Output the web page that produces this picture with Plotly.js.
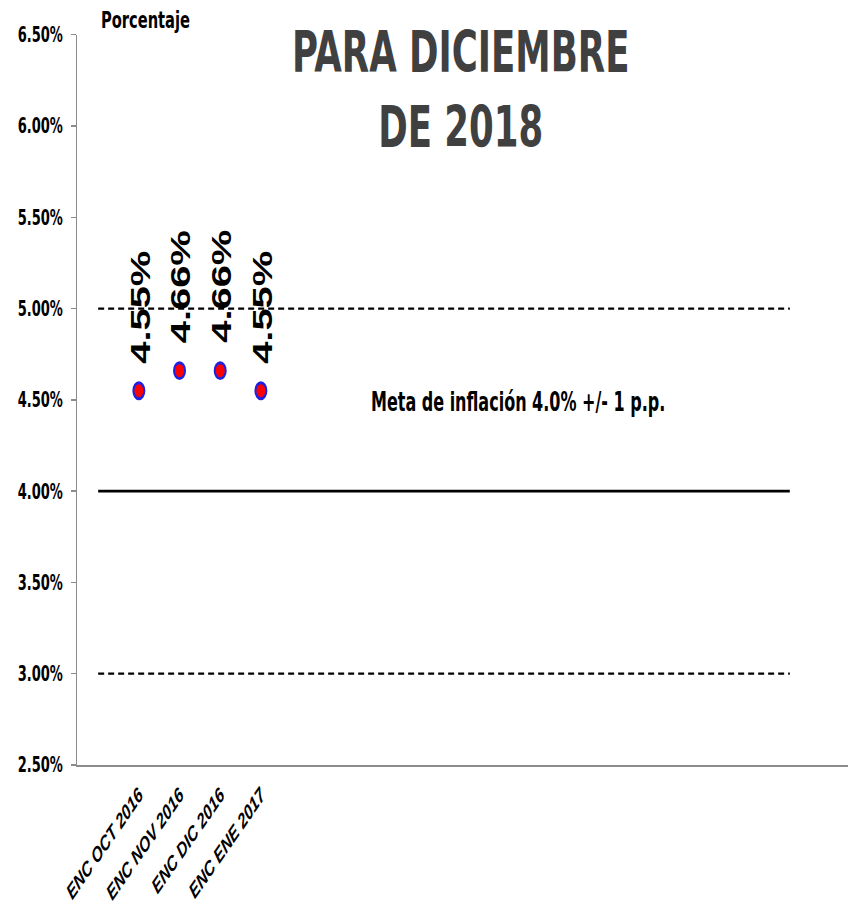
<!DOCTYPE html>
<html>
<head>
<meta charset="utf-8">
<script src="https://cdn.plot.ly/plotly-3.0.1.min.js"></script>
<style>
html,body{margin:0;padding:0;background:#fff;overflow:hidden;width:850px;height:920px;}
#chart{width:850px;height:635px;transform:scaleY(1.4488);transform-origin:0 0;}
</style>
</head>
<body>
<div id="chart"></div>
<script>
const categories = ["ENC OCT 2016", "ENC NOV 2016", "ENC DIC 2016", "ENC ENE 2017"];
const expectations = [4.55, 4.66, 4.66, 4.55];
const valueLabels = ["4.55%", "4.66%", "4.66%", "4.55%"];
const targetLevel = [4.0];
const bandLevels = [3.0, 5.0];
const yTickVals = [2.5, 3.0, 3.5, 4.0, 4.5, 5.0, 5.5, 6.0, 6.5];
const yTickText = ["2.50%", "3.00%", "3.50%", "4.00%", "4.50%", "5.00%", "5.50%", "6.00%", "6.50%"];
const titleLines = ["PARA DICIEMBRE", "DE 2018"];
const noteText = "Meta de inflación 4.0% +/- 1 p.p.";
const unitText = "Porcentaje";

const narrow = "'DejaVu Sans Condensed', 'DejaVu Sans', sans-serif";
const arial = "'Liberation Sans', Arial, sans-serif";
const xIdx = categories.map((c, i) => i);

const traces = [
  {
    x: xIdx, y: expectations, type: "scatter", mode: "markers",
    marker: {color: "#ff0000", size: 11, line: {color: "#2020e0", width: 2}},
    hoverinfo: "skip", showlegend: false
  }
];

const annotations = expectations.map((v, i) => ({
  x: i, y: v, xref: "x", yref: "y", text: "<b>" + valueLabels[i] + "</b>", showarrow: false,
  textangle: -90, xanchor: "center", yanchor: "bottom", yshift: 17, xshift: 1.5,
  font: {family: arial, size: 27.5, color: "#000"}
}));
annotations.push({
  x: 0.5726, y: 4.5, xref: "paper", yref: "y", text: "<b>" + noteText + "</b>",
  showarrow: false, xanchor: "center", yanchor: "middle", yshift: -1,
  font: {family: narrow, size: 17.8, color: "#000"}
});
annotations.push({
  x: 0.0285, y: 1.0, xref: "paper", yref: "paper", text: "<b>" + unitText + "</b>",
  showarrow: false, xanchor: "left", yanchor: "bottom", yshift: -1,
  font: {family: narrow, size: 16.3, color: "#000"}
});

const shapes = [
  {type: "line", xref: "x", yref: "y", x0: -1, x1: 16, y0: targetLevel[0], y1: targetLevel[0],
   line: {color: "#000", width: 1.8}},
  ...bandLevels.map(b => ({type: "line", xref: "x", yref: "y", x0: -1, x1: 16, y0: b, y1: b,
   line: {color: "#000", width: 1.5, dash: "6px,4px"}}))
];

const layout = {
  width: 850, height: 635,
  margin: {l: 77, r: 2, t: 24, b: 107},
  paper_bgcolor: "#fff", plot_bgcolor: "#fff",
  title: {
    text: "<b>" + titleLines.join("<br>") + "</b>",
    x: 0.542, xanchor: "center", y: 0.9214, yanchor: "top",
    font: {family: narrow, size: 39.5, color: "#404040"}
  },
  showlegend: false,
  xaxis: {
    range: [-1.52, 17.43], tickvals: xIdx, ticktext: categories.map(c => "<b><i>" + c + "</i></b>"),
    tickangle: -45, showgrid: false, zeroline: false, showline: true, linecolor: "#8c8c8c", linewidth: 1.5,
    ticks: "", ticklabelstandoff: 5, tickfont: {family: arial, size: 14.5, color: "#000"}
  },
  yaxis: {
    range: [2.5, 6.5], tickvals: yTickVals, ticktext: yTickText.map(t => "<b>" + t + "</b>"),
    showgrid: false, zeroline: false, showline: true, linecolor: "#8c8c8c", linewidth: 1.2,
    ticks: "outside", ticklen: 5, tickcolor: "#8c8c8c", tickwidth: 1, ticklabelstandoff: 5,
    tickfont: {family: narrow, size: 14.5, color: "#000"}
  },
  annotations: annotations,
  shapes: shapes
};

Plotly.newPlot("chart", traces, layout, {displayModeBar: false, staticPlot: true});
</script>
</body>
</html>
